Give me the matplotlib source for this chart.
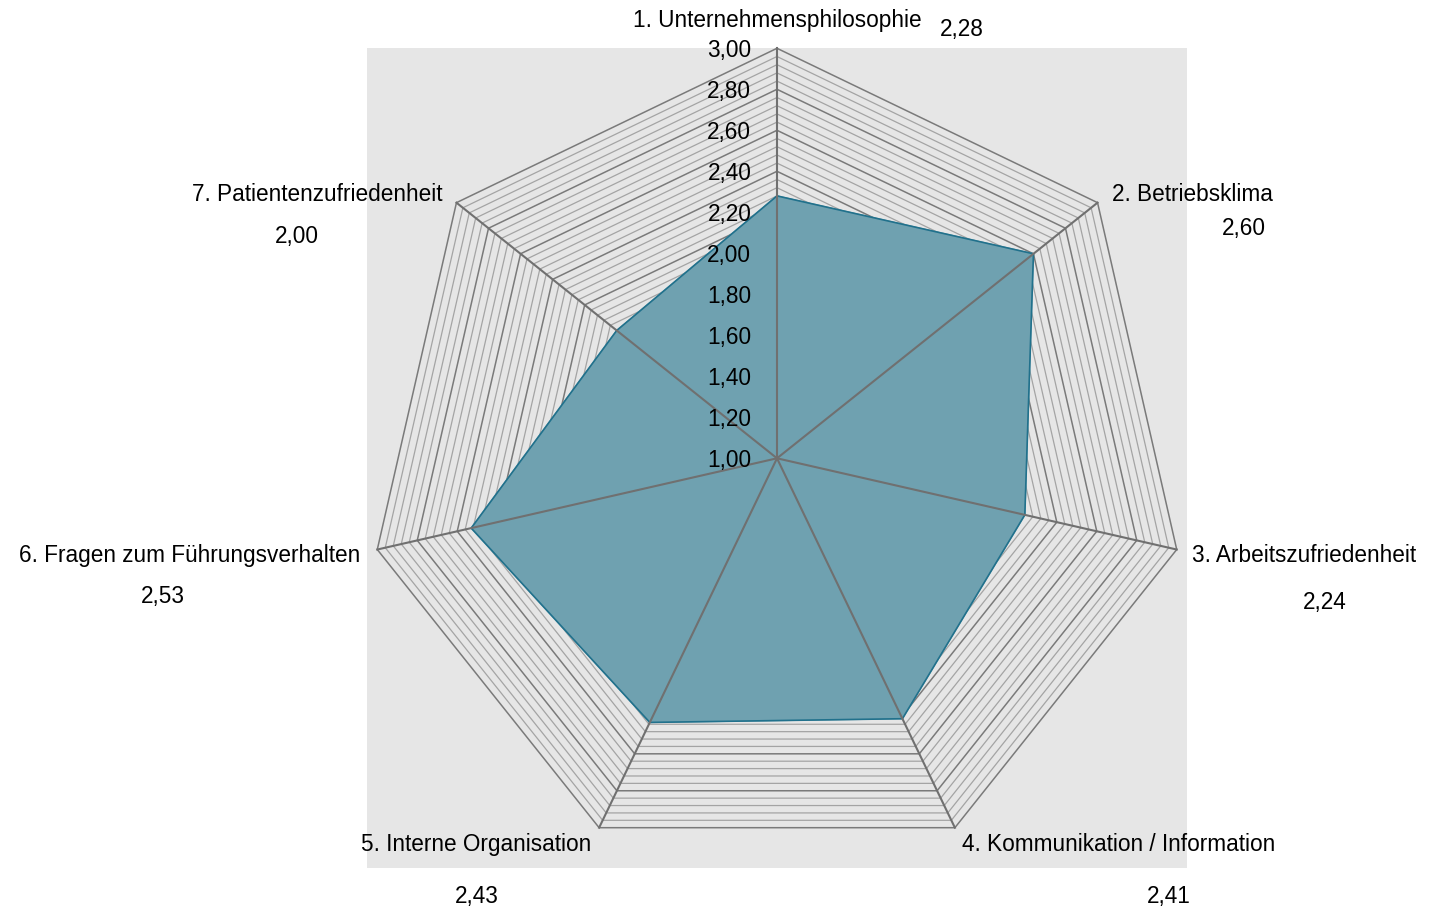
import numpy as np
import matplotlib
matplotlib.use("Agg")
import matplotlib.pyplot as plt

plt.rcParams['font.family'] = ['Liberation Sans', 'DejaVu Sans']

# data
categories = ["1. Unternehmensphilosophie", "2. Betriebsklima", "3. Arbeitszufriedenheit",
              "4. Kommunikation / Information", "5. Interne Organisation",
              "6. Fragen zum Führungsverhalten", "7. Patientenzufriedenheit"]
values = [2.28, 2.60, 2.24, 2.41, 2.43, 2.53, 2.00]
value_labels = ["2,28", "2,60", "2,24", "2,41", "2,43", "2,53", "2,00"]
r_ticks = [1.0, 1.2, 1.4, 1.6, 1.8, 2.0, 2.2, 2.4, 2.6, 2.8, 3.0]
r_tick_labels = ["1,00", "1,20", "1,40", "1,60", "1,80", "2,00", "2,20", "2,40", "2,60", "2,80", "3,00"]

# label placement (pixel offsets from the outer vertex)
cat_off = [(0, 28), (14, 8), (15, -6), (7, -17), (-8, -17), (-17, -6), (-14, 8)]
cat_ha = ["center", "left", "left", "left", "right", "right", "right"]
val_off = [(185, 19), (146, -26), (148, -53), (214, -69), (-122, -69), (-214, -47), (-160, -34)]

FS = 16.3

n = len(categories)
theta = np.linspace(0, 2 * np.pi, n, endpoint=False)
theta_c = np.append(theta, theta[0])

fig = plt.figure(figsize=(14.3, 9.11), dpi=100)
rect = [367 / 1430, (911 - 868.3) / 911, 820 / 1430, 820 / 911]

bg = fig.add_axes(rect)
bg.set_facecolor("#e6e6e6")
bg.set_xticks([])
bg.set_yticks([])
for s in bg.spines.values():
    s.set_visible(False)

ax = fig.add_axes(rect, projection="polar")
ax.patch.set_alpha(0)
ax.set_theta_offset(np.pi / 2)
ax.set_theta_direction(-1)
ax.set_ylim(1, 3)
ax.set_xticks([])
ax.set_yticks([])
ax.grid(False)
ax.spines['polar'].set_visible(False)

# polygon grid, every 0.04, a bit darker every 0.2
for i, r in enumerate(np.arange(1.04, 3.0001, 0.04)):
    major = (i + 1) % 5 == 0
    ax.plot(theta_c, [r] * (n + 1), color="#7a7a7a" if major else "#a4a4a4",
            lw=1.1 if major else 0.9, zorder=1, clip_on=False)

vals_c = values + values[:1]
ax.fill(theta_c, vals_c, color="#6fa1b0", zorder=2)
ax.plot(theta_c, vals_c, color="#21718c", lw=1.2, zorder=3)

for t in theta:
    ax.plot([t, t], [1, 3], color="#707070", lw=1.5, zorder=4, clip_on=False)

for r, lab in zip(r_ticks, r_tick_labels):
    ax.annotate(lab, xy=(0, r), xytext=(-18.5, -1.4), textcoords="offset points",
                ha="right", va="center", fontsize=FS, zorder=5)

for t, cat, (dx, dy), ha, vl, (vx, vy) in zip(theta, categories, cat_off, cat_ha, value_labels, val_off):
    ax.annotate(cat, xy=(t, 3), xytext=(dx * 0.72, dy * 0.72), textcoords="offset points",
                ha=ha, va="center", fontsize=FS, annotation_clip=False)
    ax.annotate(vl, xy=(t, 3), xytext=(vx * 0.72, vy * 0.72), textcoords="offset points",
                ha="center", va="center", fontsize=FS, annotation_clip=False)

fig.savefig("out.png", dpi=100)
